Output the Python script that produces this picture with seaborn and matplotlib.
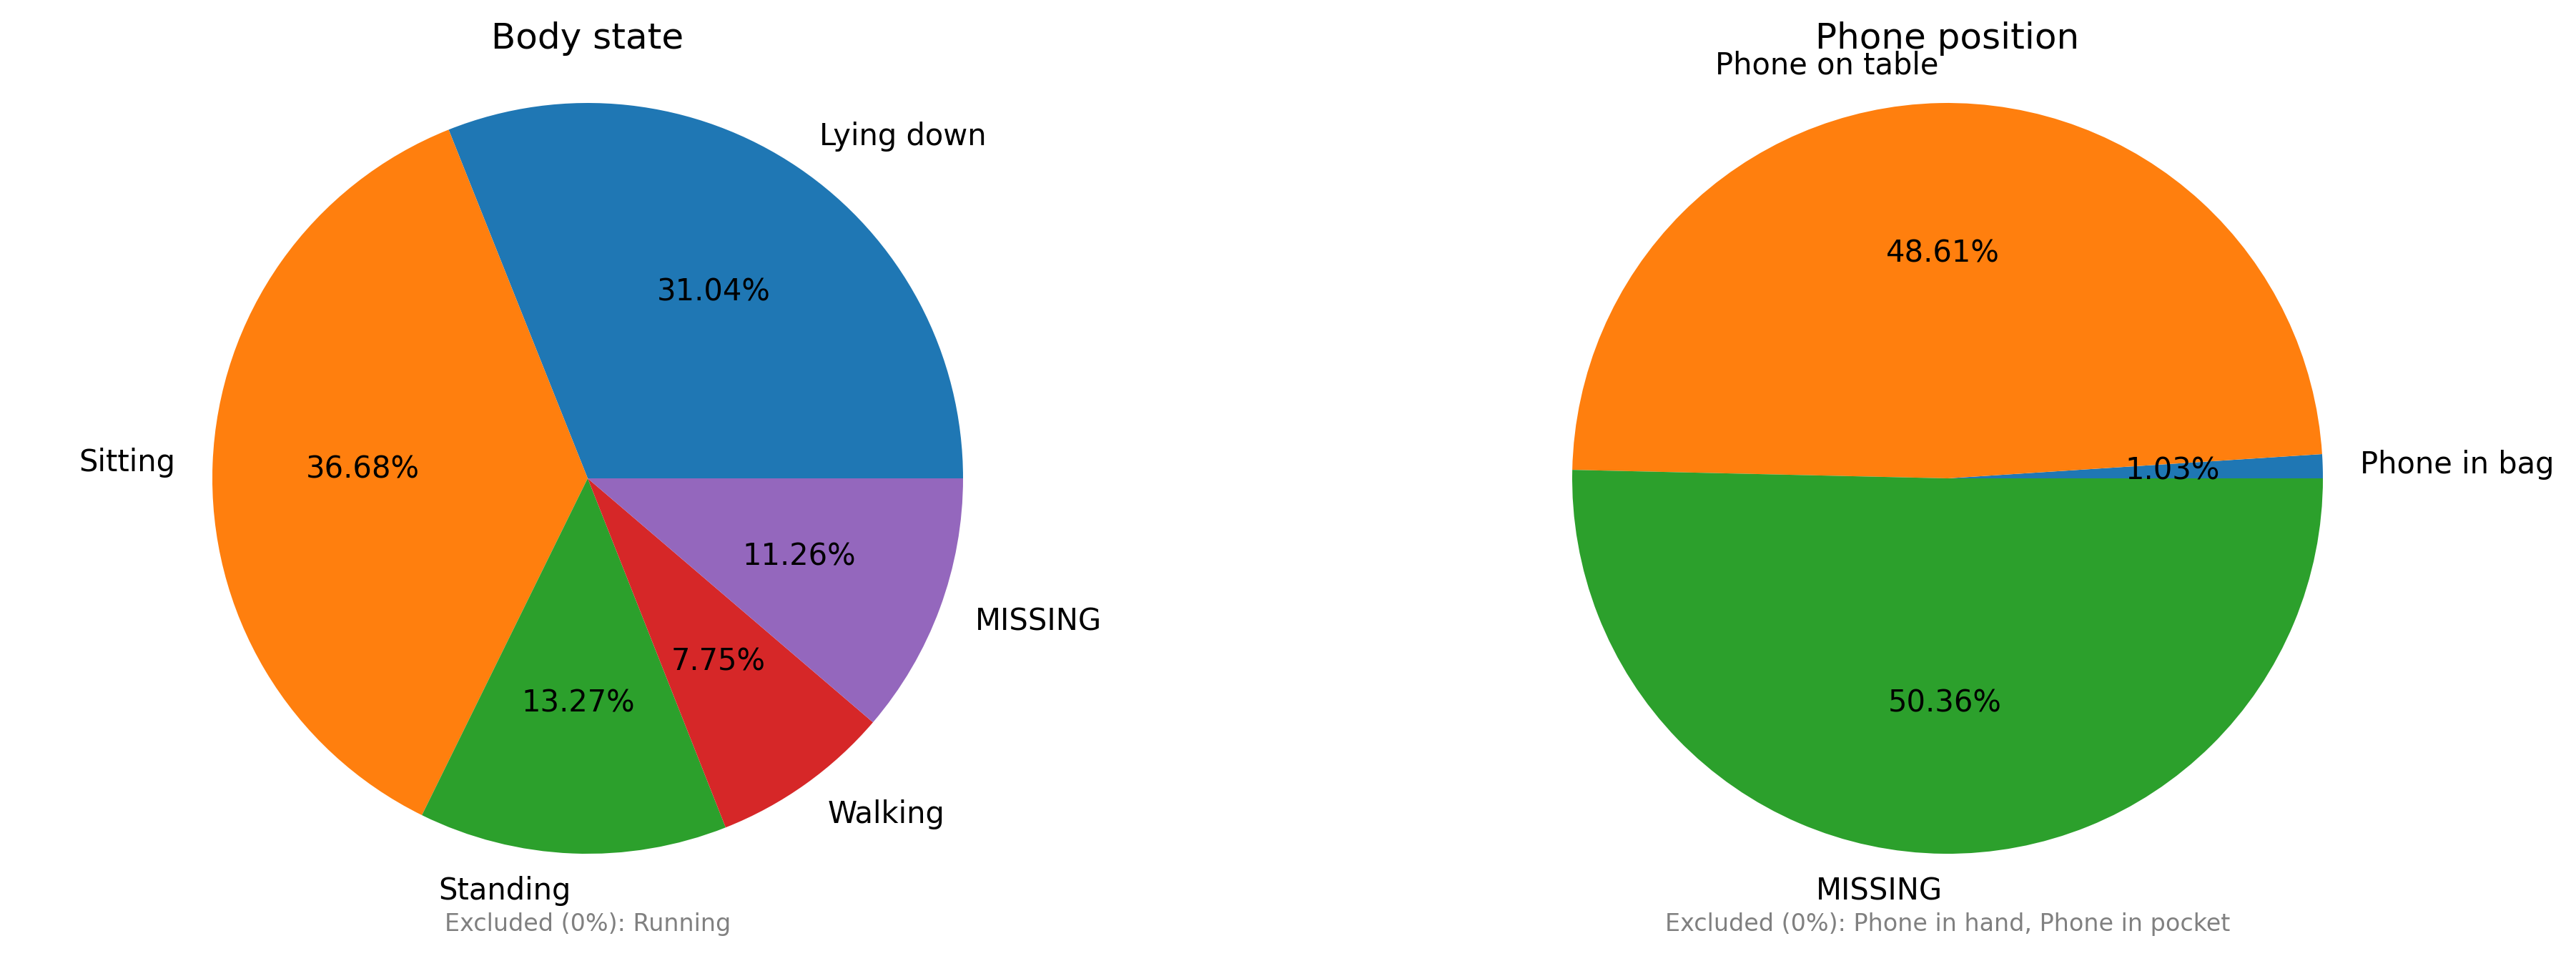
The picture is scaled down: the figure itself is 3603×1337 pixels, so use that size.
import matplotlib
matplotlib.use("Agg")
import matplotlib.pyplot as plt
import seaborn as sns

# body state shares (%)
body_labels = ["Lying down", "Sitting", "Standing", "Walking", "MISSING"]
body_values = [31.04, 36.68, 13.27, 7.75, 11.26]
body_excluded = ["Running"]

# phone position shares (%)
phone_labels = ["Phone in bag", "Phone on table", "MISSING"]
phone_values = [1.03, 48.61, 50.36]
phone_excluded = ["Phone in hand", "Phone in pocket"]

sns.set_style("white")
plt.rcParams['font.family'] = ['DejaVu Sans']
plt.rcParams['text.color'] = 'black'
plt.rcParams['axes.titlecolor'] = 'black'
colors = sns.color_palette("tab10")

W, H = 3603, 1337
dpi = 300
fig = plt.figure(figsize=(W/dpi, H/dpi), dpi=dpi)

r = 525.0  # pie radius in pixels
half = 1.25 * r
cy = H - 669

def add_pie(cx, labels, values, title, excluded):
    ax = fig.add_axes([(cx - half)/W, (cy - half)/H, 2*half/W, 2*half/H])
    ax.pie(values, labels=labels, colors=colors[:len(values)], autopct='%1.2f%%',
           startangle=0, textprops={'fontsize': 10, 'color': 'black'},
           wedgeprops={'linewidth': 0, 'edgecolor': 'none'})
    ax.set_xlim(-1.25, 1.25)
    ax.set_ylim(-1.25, 1.25)
    ax.set_aspect('equal')
    ax.set_title(title, fontsize=12, y=0.958, pad=0, color='black')
    ax.text(0.5, 0.0177, "Excluded (0%): " + ", ".join(excluded), transform=ax.transAxes,
            ha='center', va='baseline', fontsize=8, color='gray')
    return ax

add_pie(822, body_labels, body_values, "Body state", body_excluded)
add_pie(2724, phone_labels, phone_values, "Phone position", phone_excluded)

fig.savefig("out.png", dpi=dpi)
